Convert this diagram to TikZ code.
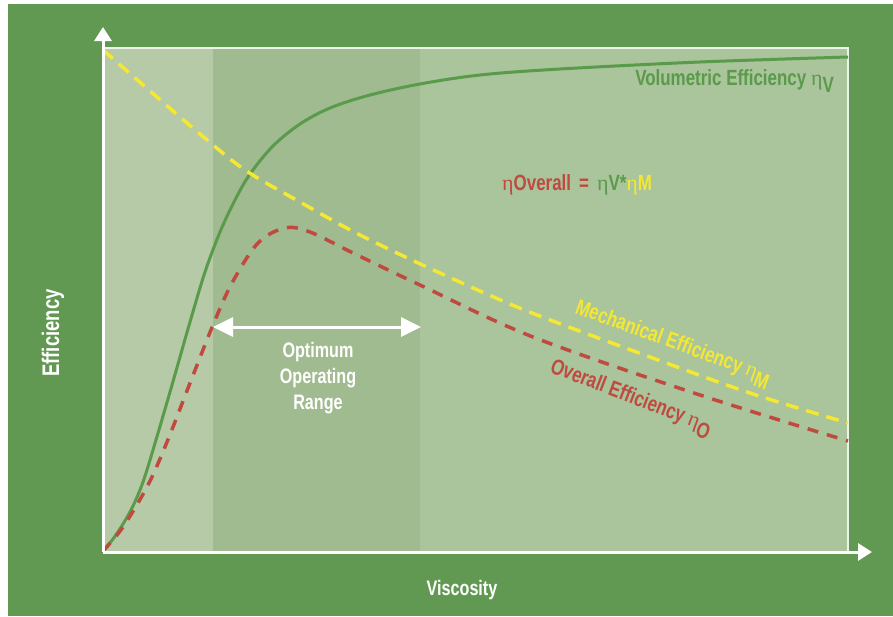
\documentclass[tikz,border=0pt]{standalone}
\usepackage{fontspec}
\setmainfont{Liberation Sans}[FakeStretch=0.77]
\newfontfamily\etafont{Liberation Serif}
\usetikzlibrary{arrows.meta}
\definecolor{bg}{HTML}{629952}
\definecolor{bandL}{HTML}{B6CAA7}
\definecolor{bandM}{HTML}{A0BB8F}
\definecolor{bandR}{HTML}{AAC49B}
\definecolor{volgreen}{HTML}{5A9A4B}
\definecolor{mechyellow}{HTML}{F4E834}
\definecolor{ovred}{HTML}{BF4A40}
\definecolor{framewhite}{HTML}{EEF3EA}
\newcommand\myeta{{\etafont\mdseries η}}
\newcommand\etasub[1]{\myeta\raisebox{-0.33em}{#1}}
\begin{document}
\begin{tikzpicture}[x=1pt,y=-1pt,
  lbl/.style={font=\fontsize{21}{26}\selectfont\bfseries, inner sep=0pt},
  biglbl/.style={font=\fontsize{22}{26}\selectfont\bfseries, inner sep=0pt},
  axisline/.style={white, line width=3pt, -{Triangle[length=14pt,width=17pt]}},
  volcurve/.style={volgreen, line width=3pt},
  mechcurve/.style={mechyellow, line width=3.5pt, dash pattern=on 13pt off 8pt},
  ovcurve/.style={ovred, line width=3.5pt, dash pattern=on 11pt off 9pt}]
\useasboundingbox (0,0) rectangle (893,616);
\fill[white] (0,0) rectangle (893,616);
\fill[bg] (8,4) rectangle (893,616);
% bands
\fill[bandL] (103,48) rectangle (213,552);
\fill[bandM] (213,48) rectangle (420,552);
\fill[bandR] (420,48) rectangle (848,552);
% frame
\draw[framewhite, line width=2.5pt] (103,48) -- (848,48) -- (848,552);
% curves
\draw[volcurve] plot[smooth, tension=0.55] coordinates {(103,551) (113,539) (123,524) (133,506) (143,482) (153,450) (170,392) (190,322) (205,272) (220,232) (235,200) (250,174) (273,146) (300,124) (330,108) (370,95) (420,84) (480,75) (560,69) (700,62) (848,57)};
\draw[mechcurve] plot[smooth, tension=0.55] coordinates {(103,50) (150,91) (200,134) (245,170) (300,202) (360,235) (440,273) (527,311) (650,357) (750,393) (848,423)};
\draw[ovcurve] plot[smooth, tension=0.55] coordinates {(103,551) (123,527) (148,485) (167,442) (192,378) (213,325) (232,283) (258,243) (285,228) (310,232) (353,253) (420,285) (533,337) (700,395) (848,441)};
% axes
\coordinate (O) at (103,552);
\coordinate (ytip) at (103,27);
\coordinate (xtip) at (872,552);
\draw[axisline] (O) -- (ytip);
\draw[axisline] (O) -- (xtip);
% optimum range arrow
\coordinate (rL) at (213,327);
\coordinate (rR) at (421,327);
\draw[white, line width=3pt, {Triangle[length=20pt,width=19pt]}-{Triangle[length=20pt,width=19pt]}] (rL) -- (rR);
% labels
\node[lbl, white, align=center] (range) at (318,378) {Optimum\\Operating\\Range};
\node[lbl, white] (xlab) at (462,590) {Viscosity};
\node[font=\fontsize{24}{26}\selectfont\bfseries, inner sep=0pt, white, rotate=90] (ylab) at (53,333) {Efficiency};
\node[biglbl, volgreen, anchor=base east] (vollab) at (834,85) {Volumetric Efficiency \etasub{V}};
\node[biglbl, anchor=base west] (formula) at (502,190) {\textcolor{ovred}{\myeta Overall\hspace{8pt}=}\hspace{8pt}\textcolor{volgreen}{\myeta V*}\textcolor{mechyellow}{\myeta M}};
\node[biglbl, mechyellow, anchor=base west, rotate=-20] (mechlab) at (574,313) {Mechanical Efficiency \etasub{M}};
\node[biglbl, ovred, anchor=base west, rotate=-21] (ovlab) at (549,372) {Overall Efficiency \etasub{O}};
\end{tikzpicture}
\end{document}
